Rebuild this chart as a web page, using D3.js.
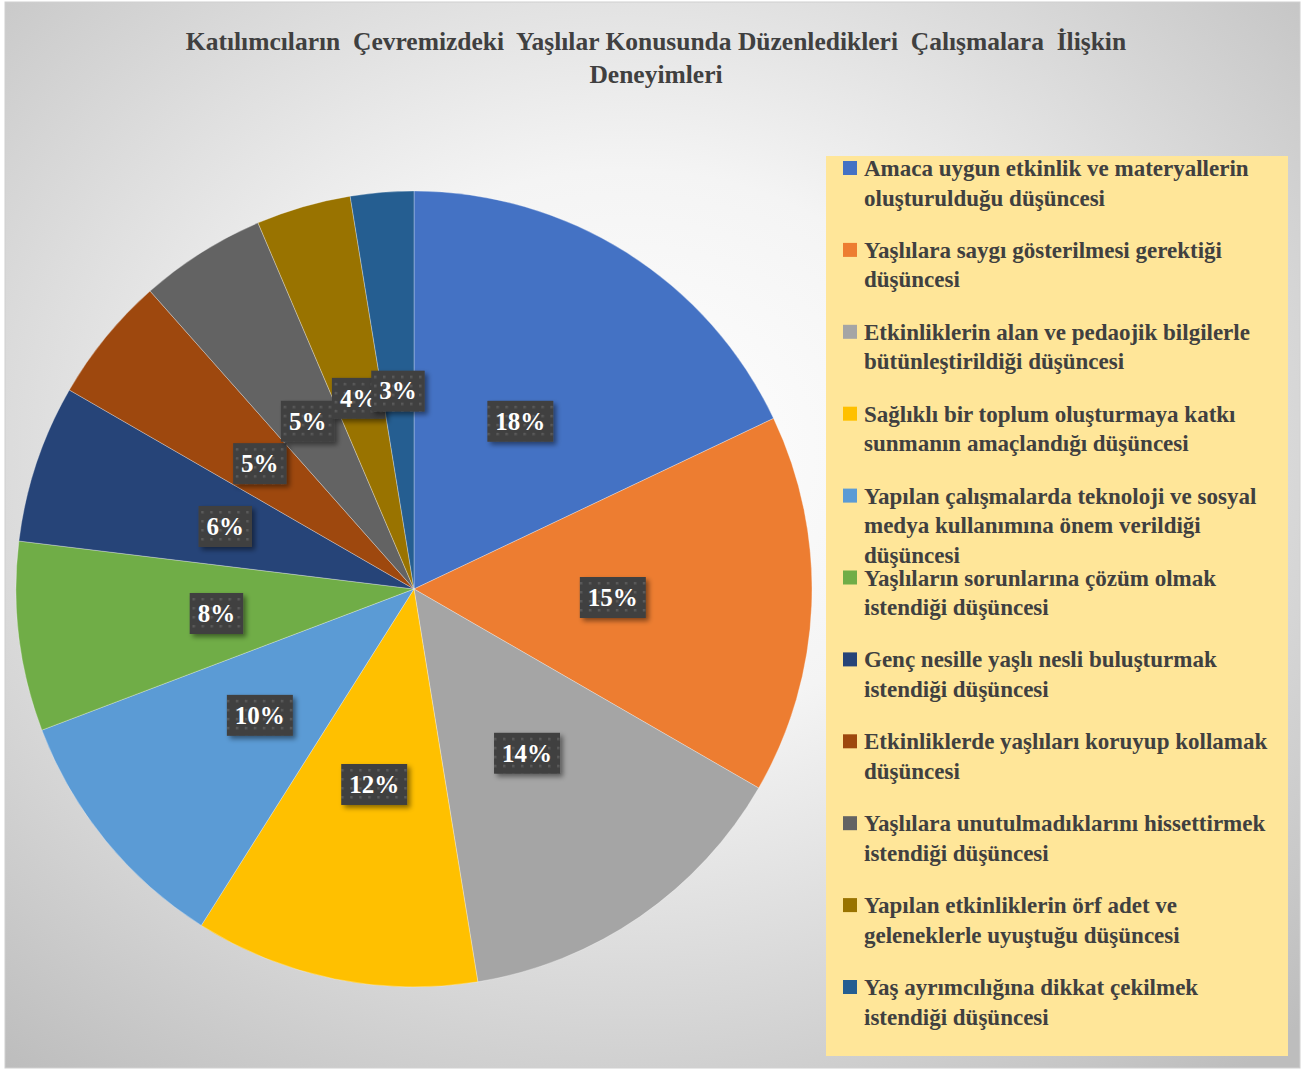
<!DOCTYPE html>
<html>
<head>
<meta charset="utf-8">
<script src="https://cdn.jsdelivr.net/npm/d3@7"></script>
<style>
  body { margin: 0; background: #fff; }
  svg { display: block; }
</style>
</head>
<body>
<svg id="chart"></svg>
<script>
// chart data
const titleLines = [
  "Katılımcıların  Çevremizdeki  Yaşlılar Konusunda Düzenledikleri  Çalışmalara  İlişkin",
  "Deneyimleri"
];
const categories = [
  "Amaca uygun etkinlik ve materyallerin\noluşturulduğu düşüncesi",
  "Yaşlılara saygı gösterilmesi gerektiği\ndüşüncesi",
  "Etkinliklerin alan ve pedaojik bilgilerle\nbütünleştirildiği düşüncesi",
  "Sağlıklı bir toplum oluşturmaya katkı\nsunmanın amaçlandığı düşüncesi",
  "Yapılan çalışmalarda teknoloji ve sosyal\nmedya kullanımına önem verildiği\ndüşüncesi",
  "Yaşlıların sorunlarına çözüm olmak\nistendiği düşüncesi",
  "Genç nesille yaşlı nesli buluşturmak\nistendiği düşüncesi",
  "Etkinliklerde yaşlıları koruyup kollamak\ndüşüncesi",
  "Yaşlılara unutulmadıklarını hissettirmek\nistendiği düşüncesi",
  "Yapılan etkinliklerin örf adet ve\ngeleneklerle uyuştuğu düşüncesi",
  "Yaş ayrımcılığına dikkat çekilmek\nistendiği düşüncesi"
];
const counts = [14, 12, 11, 9, 8, 6, 5, 4, 4, 3, 2];
const colors = ["#4472C4", "#ED7D31", "#A5A5A5", "#FFC000", "#5B9BD5", "#70AD47",
                "#264478", "#9E480E", "#636363", "#997300", "#255E91"];

const W = 1305, H = 1072;
const font = "'Palatino Linotype','Book Antiqua',Palatino,'Liberation Serif',serif";

const svg = d3.select("#chart").attr("width", W).attr("height", H);
const defs = svg.append("defs");

// background gradient
const bg = defs.append("radialGradient").attr("id", "bg")
  .attr("cx", "48%").attr("cy", "42%").attr("r", "75%");
bg.append("stop").attr("offset", "0%").attr("stop-color", "#ffffff");
bg.append("stop").attr("offset", "35%").attr("stop-color", "#f4f4f4");
bg.append("stop").attr("offset", "100%").attr("stop-color", "#bdbdbd");

// dotted label fill
const pat = defs.append("pattern").attr("id", "dots")
  .attr("patternUnits", "userSpaceOnUse").attr("width", 9).attr("height", 9);
pat.append("rect").attr("width", 9).attr("height", 9).attr("fill", "#404040");
pat.append("rect").attr("x", 3).attr("y", 3).attr("width", 2.5).attr("height", 2.5).attr("fill", "#5a5a5a");

const shadow = defs.append("filter").attr("id", "shadow")
  .attr("x", "-20%").attr("y", "-20%").attr("width", "150%").attr("height", "150%");
shadow.append("feDropShadow").attr("dx", 3).attr("dy", 3).attr("stdDeviation", 2.5)
  .attr("flood-color", "#000").attr("flood-opacity", 0.45);

svg.append("rect")
  .attr("x", 5).attr("y", 2).attr("width", 1295).attr("height", 1066)
  .attr("fill", "url(#bg)").attr("stroke", "#d0d0d0");

// title
svg.append("g").selectAll("text")
  .data(titleLines)
  .join("text")
  .attr("x", 656)
  .attr("y", (d, i) => 50 + i * 33)
  .attr("text-anchor", "middle")
  .attr("font-family", font)
  .attr("font-weight", "bold")
  .attr("font-size", 25.5)
  .attr("fill", "#404040")
  .attr("xml:space", "preserve")
  .style("white-space", "pre")
  .text(d => d);

// pie
const cx = 414, cy = 589, r = 398;
const total = d3.sum(counts);
const pie = d3.pie().sort(null).value(d => d);
const arcs = pie(counts);
const arc = d3.arc().innerRadius(0).outerRadius(r);
const labelArc = d3.arc().innerRadius(r * 0.5).outerRadius(r * 0.5);
const pct = d3.format(".0%");

const g = svg.append("g").attr("transform", "translate(" + cx + "," + cy + ")");

g.selectAll("path")
  .data(arcs)
  .join("path")
  .attr("d", arc)
  .attr("fill", (d, i) => colors[i])
  .attr("stroke", "rgba(255,255,255,0.5)")
  .attr("stroke-width", 0.6);

const labels = g.selectAll("g.lbl")
  .data(arcs)
  .join("g")
  .attr("class", "lbl")
  .attr("transform", d => "translate(" + labelArc.centroid(d) + ")");

labels.each(function (d) {
  const lg = d3.select(this);
  const box = lg.append("rect").attr("fill", "url(#dots)").attr("filter", "url(#shadow)");
  const t = lg.append("text")
    .attr("text-anchor", "middle")
    .attr("dy", "0.35em")
    .attr("font-family", font)
    .attr("font-weight", "bold")
    .attr("font-size", 25)
    .attr("fill", "#ffffff")
    .text(pct(d.value / total));
  const w = t.node().getComputedTextLength() + 16;
  box.attr("x", -w / 2).attr("y", -20).attr("width", w).attr("height", 41);
});

// legend
svg.append("rect")
  .attr("x", 826).attr("y", 156).attr("width", 462).attr("height", 900)
  .attr("fill", "#FFE699");

const ly = d3.scaleLinear().domain([0, categories.length - 1]).range([168, 987]);

const items = svg.append("g").selectAll("g")
  .data(categories)
  .join("g")
  .attr("transform", (d, i) => "translate(843," + ly(i) + ")");

items.append("rect")
  .attr("x", 0).attr("y", -7).attr("width", 14).attr("height", 14)
  .attr("fill", (d, i) => colors[i]);

items.append("text")
  .attr("font-family", font)
  .attr("font-weight", "bold")
  .attr("font-size", 23)
  .attr("fill", "#404040")
  .selectAll("tspan")
  .data(d => d.split("\n"))
  .join("tspan")
  .attr("x", 21)
  .attr("y", (d, i) => 8 + i * 29.5)
  .text(d => d);
</script>
</body>
</html>
